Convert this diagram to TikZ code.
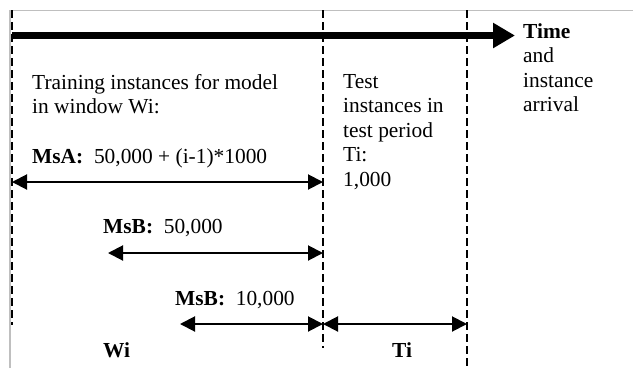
\documentclass[tikz,border=0pt]{standalone}
\usepackage{fontspec}
\setmainfont{Liberation Serif}
\usetikzlibrary{arrows.meta}
\tikzset{
  frameline/.style={draw=black!25, line width=1.5pt},
  guide/.style={draw=black, line width=1.5pt, dash pattern=on 8pt off 4pt},
  timearrow/.style={draw=black, line width=7pt, -{Triangle[length=22pt,width=24pt]}},
  span/.style={draw=black, line width=2pt, {Triangle[length=15pt,width=15pt]}-{Triangle[length=15pt,width=15pt]}},
  label/.style={inner sep=0pt, anchor=base west, align=left},
}
\begin{document}
\begin{tikzpicture}[x=1pt,y=-1pt, font=\fontsize{21.4}{24.5}\selectfont]
\useasboundingbox[fill=white] (0,0) rectangle (633,368);
% frame
\draw[frameline] (10,368) -- (10,10.5) -- (633,10.5);
% guide lines
\coordinate (L1) at (12,10);  \coordinate (L2) at (12,325);
\coordinate (M1) at (323,10); \coordinate (M2) at (323,348);
\coordinate (R1) at (467,10); \coordinate (R2) at (467,368);
\draw[guide] (L1) -- (L2);
\draw[guide] (M1) -- (M2);
\draw[guide] (R1) -- (R2);
% time axis
\coordinate (tS) at (12,35.5);
\coordinate (tE) at (515,35.5);
\draw[timearrow] (tS) -- (tE);
% spans
\coordinate (a1) at (12,182);  \coordinate (a2) at (323,182);
\coordinate (b1) at (108,253); \coordinate (b2) at (323,253);
\coordinate (c1) at (180,324); \coordinate (c2) at (323,324);
\coordinate (d1) at (323,324); \coordinate (d2) at (467,324);
\draw[span] (a1) -- (a2);
\draw[span] (b1) -- (b2);
\draw[span] (c1) -- (c2);
\draw[span] (d1) -- (d2);
% texts (multi-line nodes: base = baseline of the last line)
\node[label] (train) at (32,113.5) {Training instances for model\\in window Wi:};
\node[label] (msa) at (32,163) {\textbf{MsA:}\ \ 50,000 + (i-1)*1000};
\node[label] (msb1) at (103,233) {\textbf{MsB:}\ \ 50,000};
\node[label] (msb2) at (175,305) {\textbf{MsB:}\ \ 10,000};
\node[label] (wi) at (103,357) {\textbf{Wi}};
\node[label] (ti) at (392,357) {\textbf{Ti}};
\node[label] (test) at (343,186) {Test\\instances in\\test period\\Ti:\\1,000};
\node[label] (time) at (523,111.5) {\textbf{Time}\\and\\instance\\arrival};
\end{tikzpicture}
\end{document}
